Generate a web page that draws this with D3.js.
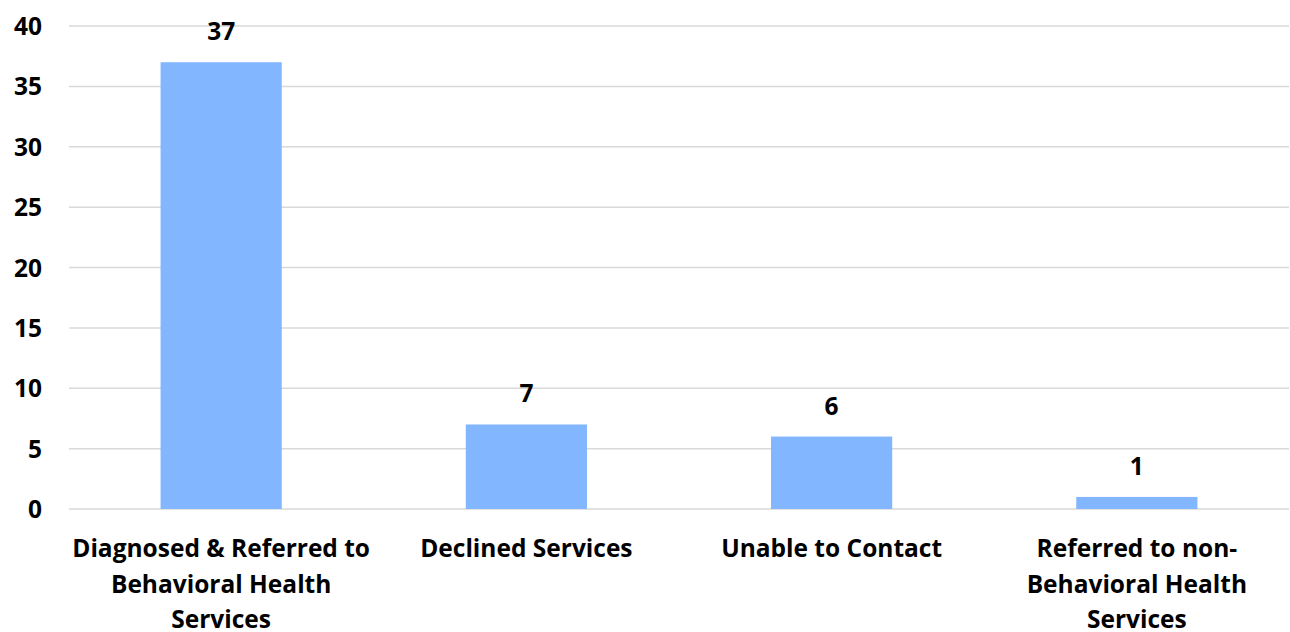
<!DOCTYPE html>
<html>
<head>
<meta charset="utf-8">
<script src="https://cdn.jsdelivr.net/npm/d3@7"></script>
<style>
  body { margin: 0; background: #fff; }
  text { font-family: "Open Sans", Lato, sans-serif; font-weight: bold; fill: #000; }
</style>
</head>
<body>
<div id="chart"></div>
<script>
// data
let categories = [
    ["Diagnosed & Referred to", "Behavioral Health", "Services"],
    ["Declined Services"],
    ["Unable to Contact"],
    ["Referred to non-", "Behavioral Health", "Services"]
];
let values = [37, 7, 6, 1];
let yTicks = [0, 5, 10, 15, 20, 25, 30, 35, 40];

let width = 1290, height = 632;
let margin = {top: 26, right: 1, bottom: 123, left: 69};
let fontSize = "24.5px";

const svg = d3.select("#chart").append("svg")
    .attr("width", width)
    .attr("height", height);

const x = d3.scaleBand()
    .domain(d3.range(values.length))
    .range([margin.left, width - margin.right])
    .paddingInner(0.603)
    .paddingOuter(0.3);

const y = d3.scaleLinear()
    .domain([0, 40])
    .range([height - margin.bottom, margin.top]);

// gridlines
svg.append("g")
    .selectAll("line")
    .data(yTicks)
    .join("line")
    .attr("x1", margin.left)
    .attr("x2", width - margin.right)
    .attr("y1", d => y(d))
    .attr("y2", d => y(d))
    .style("stroke", "#d9d9d9")
    .style("stroke-width", 1.5);

// y axis labels
const yAxis = svg.append("g")
    .attr("transform", `translate(${margin.left - 27},0)`)
    .call(d3.axisLeft(y).tickValues(yTicks).tickSize(0).tickPadding(0));
yAxis.select(".domain").remove();
yAxis.selectAll("text")
    .style("font-family", "'Open Sans', sans-serif")
    .style("font-weight", "bold")
    .style("font-size", fontSize)
    .attr("dy", "0.35em");

// bars
svg.append("g")
    .selectAll("rect")
    .data(values)
    .join("rect")
    .attr("x", (d, i) => x(i))
    .attr("y", d => y(d))
    .attr("width", x.bandwidth())
    .attr("height", d => y(0) - y(d))
    .attr("fill", "#82b6fe");

// value labels
svg.append("g")
    .selectAll("text")
    .data(values)
    .join("text")
    .attr("x", (d, i) => x(i) + x.bandwidth() / 2)
    .attr("y", d => y(d) - 22)
    .attr("text-anchor", "middle")
    .style("font-size", fontSize)
    .text(d => d);

// category labels
const cat = svg.append("g")
    .selectAll("text")
    .data(categories)
    .join("text")
    .attr("x", (d, i) => x(i) + x.bandwidth() / 2)
    .attr("y", 557)
    .attr("text-anchor", "middle")
    .style("font-size", fontSize);

cat.selectAll("tspan")
    .data(d => d)
    .join("tspan")
    .attr("x", function () { return d3.select(this.parentNode).attr("x"); })
    .attr("dy", (d, i) => i === 0 ? 0 : 35.5)
    .text(d => d);
</script>
</body>
</html>
